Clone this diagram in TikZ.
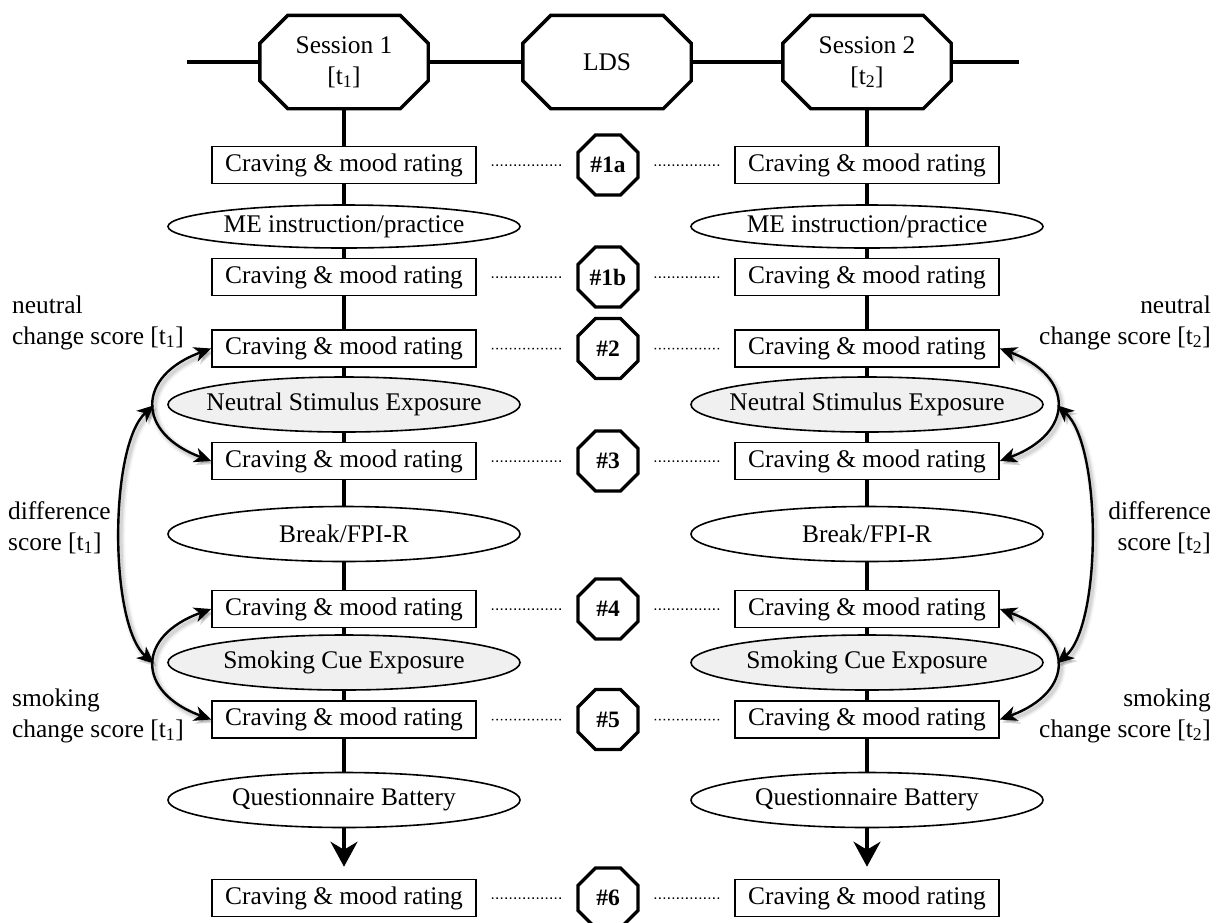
\documentclass[tikz,border=0pt]{standalone}
\usepackage{fontspec}
\setmainfont{Liberation Serif}
\usetikzlibrary{arrows.meta,shapes.geometric,calc}

% text whose width does not enlarge its ellipse
\newcommand\flatw[1]{\makebox[0pt][c]{#1}}
% octagonal outline with chamfered corners around a rectangular node
\newcommand\chamferframe[2]{%
  \draw[frame] ($(#1.north west)+(#2,0)$) -- ($(#1.north east)+(-#2,0)$)
    -- ($(#1.north east)+(0,-#2)$) -- ($(#1.south east)+(0,#2)$)
    -- ($(#1.south east)+(-#2,0)$) -- ($(#1.south west)+(#2,0)$)
    -- ($(#1.south west)+(0,#2)$) -- ($(#1.north west)+(0,-#2)$) -- cycle;}
% curved score arrow with a soft drop shadow
\newcommand\scorecurve[1]{%
  \draw[scoreshadow, line width=9pt, opacity=0.04] #1;
  \draw[scoreshadow, line width=6pt, opacity=0.06] #1;
  \draw[scoreshadow, line width=3.5pt, opacity=0.08] #1;
  \draw[score] #1;}

\begin{document}
\begin{tikzpicture}[x=1pt, y=1pt,
  every node/.style={font={\fontsize{25.4}{31}\selectfont}},
  rating/.style={draw, line width=1.6pt, minimum width=264pt, minimum height=37pt,
    inner sep=0pt, fill=white},
  task/.style={draw, ellipse, line width=1.6pt, minimum width=352pt, minimum height=55pt,
    inner sep=0pt, fill=white},
  exposure/.style={task, fill=gray!12},
  sessionbox/.style={minimum width=168pt, minimum height=93pt, inner sep=0pt, align=center},
  frame/.style={line width=3.4pt},
  tpoint/.style={draw, regular polygon, regular polygon sides=8, minimum size=65pt,
    line width=3.4pt, inner sep=0pt, fill=white, font={\fontsize{23.5}{26}\selectfont\bfseries}},
  spine/.style={line width=3.4pt},
  link/.style={line width=1.5pt, dash pattern=on 1.5pt off 3pt, shorten <=15pt, shorten >=15pt},
  tipstyle/.style={{Stealth[length=17pt,width=15pt,inset=5pt]}-{Stealth[length=17pt,width=15pt,inset=5pt]}},
  score/.style={line width=2.4pt, tipstyle},
  scoreshadow/.style={draw=black, tipstyle, transform canvas={shift={(2.5pt,-3pt)}}},
  scoretext/.style={inner sep=0pt}
]
\useasboundingbox (0,0) rectangle (1226,-922);

% sessions and the time line
\node[sessionbox] (s1)  at (344,-62) {Session 1\\{}[t\textsubscript{1}]};
\node[sessionbox] (lds) at (607,-62) {LDS};
\node[sessionbox] (s2)  at (867,-62) {Session 2\\{}[t\textsubscript{2}]};
\chamferframe{s1}{28}
\chamferframe{lds}{28}
\chamferframe{s2}{28}
\coordinate (lineL) at (187,-62);
\coordinate (lineR) at (1019,-62);
\draw[spine] (lineL) -- (s1.west);
\draw[spine] (s1.east) -- (lds.west);
\draw[spine] (lds.east) -- (s2.west);
\draw[spine] (s2.east) -- (lineR);

% rating boxes and time-point markers
\foreach \n/\y/\t in {1/165/1a, 2/277/1b, 3/348.5/2, 4/461/3, 5/609/4, 6/719.5/5, 7/898/6} {
  \node[rating] (aL\n) at (344,-\y) {Craving \& mood rating};
  \node[rating] (aR\n) at (867,-\y) {Craving \& mood rating};
  \node[tpoint] (oc\n) at (608,-\y) {\#\t};
  \draw[link] (aL\n) -- (oc\n);
  \draw[link] (oc\n) -- (aR\n);
}

% procedure steps
\foreach \s/\x in {L/344, R/867} {
  \node[task, minimum height=43pt] (t\s1) at (\x,-226.5) {\flatw{ME instruction/practice}};
  \node[exposure] (t\s2) at (\x,-404.5) {\flatw{Neutral Stimulus Exposure}};
  \node[task]     (t\s3) at (\x,-534)   {\flatw{Break/FPI-R}};
  \node[exposure] (t\s4) at (\x,-662.5) {\flatw{Smoking Cue Exposure}};
  \node[task]     (t\s5) at (\x,-800)   {\flatw{Questionnaire Battery}};
}

% session flow
\draw[spine] (s1) -- (aL1) -- (tL1) -- (aL2) -- (aL3) -- (tL2) -- (aL4) -- (tL3)
  -- (aL5) -- (tL4) -- (aL6) -- (tL5);
\draw[spine] (s2) -- (aR1) -- (tR1) -- (aR2) -- (aR3) -- (tR2) -- (aR4) -- (tR3)
  -- (aR5) -- (tR4) -- (aR6) -- (tR5);
\draw[spine, -{Stealth[length=25pt,width=27pt,inset=8pt]}, shorten >=12pt] (tL5) -- (aL7);
\draw[spine, -{Stealth[length=25pt,width=27pt,inset=8pt]}, shorten >=12pt] (tR5) -- (aR7);

% change and difference scores, session 1
\scorecurve{(aL3.west) .. controls (136,-376) and (136,-433) .. (aL4.west) coordinate[pos=0.5] (nL)}
\scorecurve{(aL5.west) .. controls (136,-636) and (136,-692) .. (aL6.west) coordinate[pos=0.5] (sL)}
\scorecurve{[shorten <=1pt, shorten >=1pt] (nL) .. controls (109,-445) and (109,-625) .. (sL)}

% change and difference scores, session 2
\scorecurve{(aR3.east) .. controls (1075,-376) and (1075,-433) .. (aR4.east) coordinate[pos=0.5] (nR)}
\scorecurve{(aR5.east) .. controls (1075,-636) and (1075,-692) .. (aR6.east) coordinate[pos=0.5] (sR)}
\scorecurve{[shorten <=1pt, shorten >=1pt] (nR) .. controls (1102,-445) and (1102,-625) .. (sR)}

% score labels
\node[scoretext, anchor=base west] (ln1) at (12,-313) {neutral};
\node[scoretext, anchor=base west] (ln2) at (12,-344) {change score [t\textsubscript{1}]};
\node[scoretext, anchor=base west] (ld1) at (8,-519) {difference};
\node[scoretext, anchor=base west] (ld2) at (8,-550) {score [t\textsubscript{1}]};
\node[scoretext, anchor=base west] (ls1) at (12,-706) {smoking};
\node[scoretext, anchor=base west] (ls2) at (12,-737) {change score [t\textsubscript{1}]};
\node[scoretext, anchor=base east] (rn1) at (1211,-313) {neutral};
\node[scoretext, anchor=base east] (rn2) at (1211,-344) {change score [t\textsubscript{2}]};
\node[scoretext, anchor=base east] (rd1) at (1211,-519) {difference};
\node[scoretext, anchor=base east] (rd2) at (1211,-550) {score [t\textsubscript{2}]};
\node[scoretext, anchor=base east] (rs1) at (1211,-706) {smoking};
\node[scoretext, anchor=base east] (rs2) at (1211,-737) {change score [t\textsubscript{2}]};
\end{tikzpicture}
\end{document}
